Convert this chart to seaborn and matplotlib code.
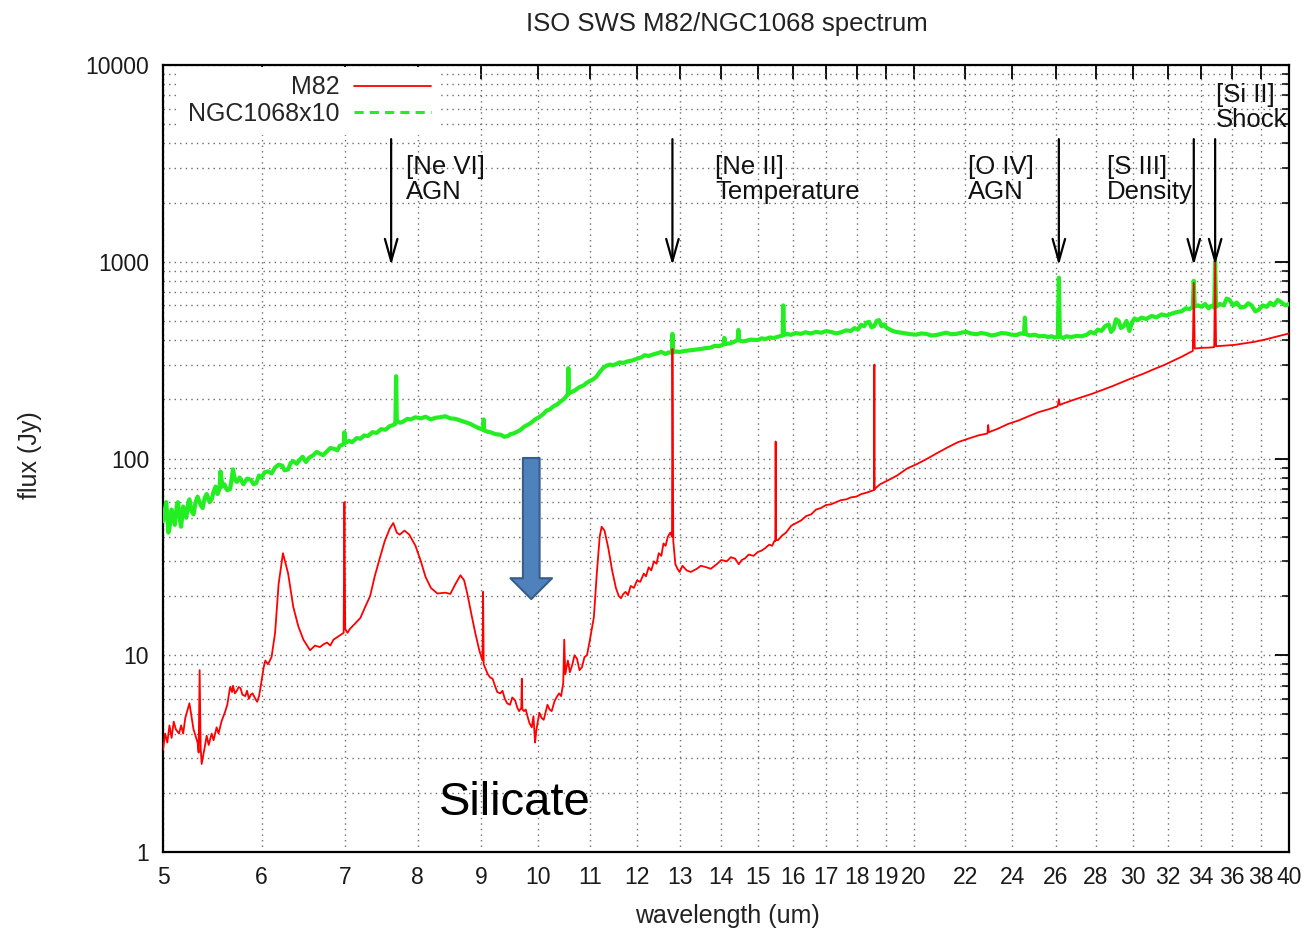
import matplotlib
matplotlib.use("Agg")
import matplotlib.pyplot as plt
from matplotlib import font_manager
from matplotlib.lines import Line2D
from matplotlib.ticker import FixedLocator, NullLocator, LogLocator, NullFormatter
import numpy as np
import pandas as pd
import seaborn as sns

# ---------------------------------------------------------------- data
# M82 spectrum (wavelength in um, flux in Jy)
m82_wl = [
    5.00, 5.02, 5.04, 5.06, 5.08, 5.10, 5.12, 5.15, 5.17, 5.19,
    5.21, 5.25, 5.29, 5.33, 5.34, 5.35, 5.36, 5.37, 5.40, 5.42,
    5.44, 5.47, 5.49, 5.52, 5.54, 5.57, 5.59, 5.61, 5.63, 5.66,
    5.68, 5.69, 5.71, 5.73, 5.75, 5.77, 5.79, 5.82, 5.84, 5.86,
    5.88, 5.90, 5.93, 5.95, 5.97, 5.99, 6.02, 6.04, 6.07, 6.11,
    6.15, 6.19, 6.24, 6.30, 6.36, 6.42, 6.48, 6.56, 6.62, 6.68,
    6.73, 6.77, 6.81, 6.85, 6.89, 6.93, 6.98, 6.99, 7.00, 7.03,
    7.06, 7.13, 7.20, 7.26, 7.33, 7.39, 7.46, 7.53, 7.60, 7.65,
    7.70, 7.74, 7.81, 7.88, 7.97, 8.05, 8.12, 8.20, 8.30, 8.42,
    8.50, 8.58, 8.66, 8.72, 8.77, 8.84, 8.90, 8.97, 9.02, 9.03,
    9.04, 9.08, 9.11, 9.15, 9.19, 9.23, 9.27, 9.32, 9.36, 9.40,
    9.44, 9.49, 9.53, 9.58, 9.62, 9.65, 9.69, 9.70, 9.71, 9.74,
    9.77, 9.81, 9.84, 9.88, 9.91, 9.94, 9.96, 9.99, 10.02, 10.06,
    10.10, 10.14, 10.17, 10.21, 10.25, 10.30, 10.34, 10.39, 10.43, 10.47,
    10.49, 10.51, 10.56, 10.60, 10.65, 10.69, 10.74, 10.79, 10.84, 10.89,
    10.94, 11.00, 11.08, 11.14, 11.20, 11.24, 11.30, 11.38, 11.46, 11.54,
    11.60, 11.65, 11.70, 11.75, 11.80, 11.86, 11.93, 12.00, 12.07, 12.15,
    12.20, 12.26, 12.32, 12.38, 12.44, 12.49, 12.55, 12.60, 12.65, 12.70,
    12.76, 12.80, 12.81, 12.83, 12.88, 12.93, 12.98, 13.05, 13.15, 13.25,
    13.40, 13.50, 13.64, 13.75, 13.90, 14.02, 14.16, 14.27, 14.38, 14.48,
    14.56, 14.64, 14.75, 14.88, 15.00, 15.10, 15.20, 15.32, 15.40, 15.46,
    15.49, 15.50, 15.51, 15.57, 15.68, 15.80, 15.95, 16.10, 16.25, 16.40,
    16.55, 16.70, 16.85, 17.01, 17.17, 17.33, 17.50, 17.66, 17.82, 17.99,
    18.16, 18.33, 18.45, 18.57, 18.59, 18.60, 18.61, 18.80, 19.04, 19.40,
    19.76, 20.14, 20.52, 20.91, 21.30, 21.70, 22.11, 22.53, 22.92, 22.95,
    22.98, 23.38, 23.82, 24.27, 24.73, 25.19, 25.67, 26.00, 26.10, 26.15,
    26.20, 26.34, 26.83, 27.34, 27.85, 28.38, 28.91, 29.46, 30.01, 30.58,
    31.15, 31.74, 32.34, 32.84, 33.27, 33.49, 33.55, 33.61, 34.00, 34.48,
    34.84, 34.90, 34.96, 35.40, 36.18, 36.86, 37.54, 38.25, 38.96, 39.69,
    40.00,
]
m82_flux = [
    3.3, 4.0, 3.6, 4.4, 3.8, 4.6, 4.2, 4.0, 4.4, 4.0,
    4.8, 5.7, 4.2, 3.6, 3.2, 8.4, 3.4, 2.8, 3.4, 3.9,
    3.5, 4.0, 3.7, 4.3, 4.0, 4.6, 4.9, 5.2, 5.6, 6.9,
    6.5, 7.0, 6.4, 6.6, 6.9, 6.8, 6.3, 6.2, 6.6, 6.0,
    6.3, 6.4, 6.0, 5.8, 6.2, 7.0, 8.6, 9.4, 9.0, 9.8,
    13.0, 23.0, 33.0, 26.0, 17.6, 14.0, 12.0, 10.6, 11.2, 11.0,
    11.4, 11.6, 11.2, 12.0, 12.3, 12.6, 13.0, 60.0, 13.6, 13.0,
    13.6, 14.5, 15.5, 17.5, 20.0, 25.0, 31.0, 38.0, 44.0, 47.0,
    42.0, 41.0, 43.0, 41.0, 36.0, 30.0, 25.0, 22.0, 20.6, 20.8,
    20.5, 23.0, 25.5, 24.0, 20.6, 16.0, 13.0, 10.5, 9.4, 21.0,
    9.0, 8.4, 8.0, 7.7, 7.6, 7.0, 6.5, 6.4, 6.6, 6.0,
    5.7, 5.6, 6.1, 5.9, 5.4, 5.2, 5.4, 7.6, 5.3, 5.2,
    5.3, 4.8, 4.5, 4.3, 4.9, 3.6, 4.1, 4.6, 5.1, 4.8,
    4.7, 5.2, 5.6, 5.3, 5.2, 5.8, 6.1, 6.4, 6.2, 7.2,
    12.0, 8.0, 9.4, 8.2, 9.0, 10.0, 9.6, 8.4, 8.7, 9.8,
    10.0, 12.0, 15.6, 26.0, 40.0, 45.0, 43.0, 35.0, 27.0, 22.0,
    20.0, 19.5, 20.5, 21.0, 20.2, 22.5, 22.0, 24.0, 23.6, 26.0,
    25.2, 28.0, 27.0, 30.0, 29.2, 33.0, 32.0, 37.0, 36.0, 40.0,
    42.0, 40.0, 360.0, 38.0, 29.0, 27.5, 26.5, 28.5, 27.0, 26.5,
    27.5, 28.5, 28.0, 27.5, 29.0, 30.5, 30.0, 31.5, 31.0, 29.0,
    30.5, 31.0, 32.5, 32.0, 33.5, 34.0, 35.0, 36.5, 36.0, 38.0,
    38.0, 122.0, 38.5, 38.5, 40.5, 42.0, 45.5, 47.0, 48.5, 51.0,
    52.0, 55.0, 56.0, 58.0, 58.5, 60.0, 61.5, 62.0, 63.5, 64.0,
    66.0, 67.0, 68.0, 69.0, 69.0, 300.0, 70.0, 74.0, 77.0, 82.0,
    89.0, 94.0, 100.0, 107.0, 114.0, 121.0, 126.0, 131.0, 134.0, 148.0,
    136.0, 142.0, 150.0, 156.0, 164.0, 172.0, 178.0, 183.0, 185.0, 200.0,
    187.0, 190.0, 198.0, 206.0, 214.0, 224.0, 234.0, 246.0, 258.0, 270.0,
    284.0, 298.0, 315.0, 330.0, 345.0, 352.0, 780.0, 362.0, 365.0, 366.0,
    368.0, 990.0, 372.0, 374.0, 378.0, 385.0, 392.0, 402.0, 414.0, 426.0,
    432.0,
]

# NGC1068 spectrum, scaled by 10
ngc_wl = [
    5.00, 5.02, 5.03, 5.05, 5.06, 5.08, 5.10, 5.11, 5.13, 5.14,
    5.16, 5.17, 5.19, 5.20, 5.22, 5.24, 5.25, 5.27, 5.29, 5.31,
    5.33, 5.36, 5.38, 5.40, 5.42, 5.45, 5.47, 5.49, 5.51, 5.53,
    5.55, 5.56, 5.58, 5.60, 5.63, 5.66, 5.69, 5.71, 5.73, 5.76,
    5.80, 5.84, 5.88, 5.91, 5.94, 5.97, 6.00, 6.03, 6.07, 6.11,
    6.15, 6.19, 6.23, 6.26, 6.30, 6.33, 6.36, 6.40, 6.44, 6.47,
    6.51, 6.55, 6.60, 6.64, 6.68, 6.72, 6.77, 6.81, 6.86, 6.90,
    6.93, 6.98, 6.99, 7.00, 7.05, 7.09, 7.15, 7.20, 7.25, 7.30,
    7.36, 7.42, 7.48, 7.54, 7.60, 7.65, 7.68, 7.69, 7.70, 7.75,
    7.79, 7.85, 7.90, 7.97, 8.05, 8.12, 8.20, 8.27, 8.34, 8.42,
    8.50, 8.58, 8.66, 8.74, 8.82, 8.89, 8.95, 9.03, 9.04, 9.05,
    9.10, 9.15, 9.24, 9.33, 9.39, 9.45, 9.50, 9.55, 9.62, 9.68,
    9.74, 9.80, 9.87, 9.94, 10.01, 10.09, 10.15, 10.22, 10.28, 10.35,
    10.42, 10.48, 10.56, 10.57, 10.58, 10.64, 10.70, 10.78, 10.87, 10.93,
    11.00, 11.06, 11.13, 11.20, 11.28, 11.34, 11.41, 11.48, 11.55, 11.62,
    11.70, 11.80, 11.90, 12.00, 12.09, 12.17, 12.26, 12.36, 12.46, 12.55,
    12.65, 12.72, 12.80, 12.81, 12.82, 12.90, 12.98, 13.10, 13.24, 13.36,
    13.49, 13.62, 13.75, 13.85, 13.96, 14.08, 14.10, 14.12, 14.26, 14.36,
    14.45, 14.47, 14.49, 14.58, 14.67, 14.80, 15.00, 15.10, 15.22, 15.33,
    15.45, 15.58, 15.70, 15.72, 15.74, 15.84, 15.94, 16.08, 16.24, 16.38,
    16.54, 16.70, 16.86, 17.01, 17.17, 17.33, 17.49, 17.65, 17.81, 17.93,
    18.04, 18.15, 18.25, 18.33, 18.42, 18.50, 18.59, 18.68, 18.76, 18.85,
    18.94, 19.02, 19.11, 19.24, 19.36, 19.54, 19.72, 19.90, 20.09, 20.28,
    20.47, 20.66, 20.85, 21.04, 21.24, 21.44, 21.64, 21.84, 22.04, 22.24,
    22.45, 22.66, 22.87, 23.08, 23.30, 23.52, 23.74, 23.96, 24.18, 24.35,
    24.52, 24.56, 24.60, 24.80, 24.99, 25.22, 25.46, 25.63, 25.80, 25.96,
    26.10, 26.15, 26.20, 26.35, 26.51, 26.76, 27.01, 27.26, 27.52, 27.72,
    27.93, 28.10, 28.29, 28.48, 28.67, 28.80, 28.93, 29.06, 29.20, 29.33,
    29.47, 29.63, 29.79, 29.93, 30.07, 30.26, 30.46, 30.74, 31.03, 31.32,
    31.62, 31.92, 32.21, 32.51, 32.81, 33.05, 33.29, 33.49, 33.55, 33.61,
    33.82, 34.04, 34.26, 34.48, 34.66, 34.84, 34.90, 34.96, 35.20, 35.46,
    35.65, 35.84, 36.08, 36.32, 36.58, 36.86, 37.10, 37.33, 37.58, 37.82,
    38.10, 38.39, 38.64, 38.89, 39.18, 39.47, 39.74, 40.00,
]
ngc_flux = [
    48, 56, 60, 42, 44, 55, 50, 46, 58, 60,
    48, 45, 57, 54, 50, 60, 62, 54, 52, 60,
    64, 58, 56, 63, 66, 60, 62, 68, 72, 66,
    70, 86, 72, 74, 69, 70, 88, 78, 76, 80,
    74, 79, 78, 74, 75, 82, 80, 85, 86, 84,
    90, 93, 92, 87, 88, 95, 97, 94, 99, 102,
    96, 101, 104, 108, 106, 104, 109, 113, 112, 110,
    116, 118, 136, 120, 123, 121, 127, 126, 131, 130,
    136, 135, 141, 140, 146, 148, 150, 262, 155, 152,
    154, 159, 158, 162, 160, 163, 158, 161, 162, 164,
    160, 159, 156, 153, 150, 146, 143, 140, 158, 139,
    137, 136, 133, 132, 129, 130, 133, 134, 137, 140,
    145, 148, 152, 158, 162, 168, 175, 178, 184, 188,
    195, 200, 212, 288, 214, 218, 222, 230, 235, 242,
    248, 252, 260, 275, 290, 296, 300, 298, 302, 308,
    306, 312, 315, 322, 326, 335, 332, 338, 343, 348,
    340, 346, 345, 430, 346, 350, 348, 352, 355, 358,
    360, 364, 366, 374, 372, 380, 410, 382, 385, 392,
    400, 450, 398, 394, 396, 402, 400, 408, 405, 412,
    410, 416, 422, 600, 425, 430, 425, 434, 430, 438,
    432, 440, 436, 444, 440, 432, 438, 448, 445, 460,
    452, 478, 470, 490, 495, 465, 470, 500, 505, 470,
    480, 462, 455, 445, 440, 436, 432, 428, 426, 432,
    430, 422, 424, 430, 436, 428, 430, 436, 440, 432,
    428, 434, 430, 422, 426, 434, 432, 426, 424, 432,
    430, 520, 428, 422, 426, 418, 420, 414, 418, 412,
    415, 830, 416, 410, 418, 414, 420, 418, 425, 440,
    432, 452, 445, 470, 480, 440, 455, 510, 500, 460,
    470, 500, 445, 490, 515, 505, 520, 512, 530, 522,
    540, 532, 545, 555, 560, 580, 575, 590, 800, 592,
    600, 590, 610, 580, 598, 585, 1000, 590, 610, 600,
    650, 640, 600, 620, 585, 590, 615, 600, 560, 570,
    600, 590, 620, 600, 640, 620, 600, 610,
]

# axis ticks
x_ticks = [5, 6, 7, 8, 9, 10, 11, 12, 13, 14, 15, 16, 17, 18, 19, 20,
           22, 24, 26, 28, 30, 32, 34, 36, 38, 40]
y_ticks = [1, 10, 100, 1000, 10000]

# emission-line markers
line_names = ["[Ne VI]\nAGN", "[Ne II]\nTemperature", "[O IV]\nAGN",
              "[S III]\nDensity", "[Si II]\nShock"]
line_wl = [7.62, 12.81, 26.15, 33.55, 34.90]
arrow_top = 4200
arrow_tip = 960
# label anchors (upper-left corner, data coords)
label_x = [7.83, 13.87, 22.1, 28.6, 34.96]
label_y = [3500, 3500, 3500, 3500, 8100]

# ---------------------------------------------------------------- style
sns.set_theme(style="white")
names = {f.name for f in font_manager.fontManager.ttflist}
base_font = "Liberation Sans" if "Liberation Sans" in names else "DejaVu Sans"
plt.rcParams["font.family"] = [base_font, "DejaVu Sans"]

W, H = 1309, 932
fig = plt.figure(figsize=(W / 100, H / 100), dpi=100)
fig.patch.set_facecolor("white")
ax = fig.add_axes([163 / W, 1 - 852 / H, 1126 / W, 787 / H])
ax.set_facecolor("white")

m82 = pd.DataFrame({"wavelength": m82_wl, "flux": m82_flux})
ngc = pd.DataFrame({"wavelength": ngc_wl, "flux": ngc_flux})

red = "#ff0000"
green = "#22ee22"

sns.lineplot(data=ngc, x="wavelength", y="flux", ax=ax, color=green,
             lw=3.0, estimator=None, sort=False, zorder=3)
sns.lineplot(data=m82, x="wavelength", y="flux", ax=ax, color=red,
             lw=1.3, estimator=None, sort=False, zorder=4)

ax.set_xscale("log")
ax.set_yscale("log")
ax.set_xlim(5, 40)
ax.set_ylim(1, 10000)

ax.xaxis.set_major_locator(FixedLocator(x_ticks))
ax.xaxis.set_minor_locator(NullLocator())
ax.set_xticklabels([str(t) for t in x_ticks])
ax.yaxis.set_major_locator(FixedLocator(y_ticks))
ax.yaxis.set_minor_locator(LogLocator(base=10, subs=np.arange(2, 10)))
ax.yaxis.set_minor_formatter(NullFormatter())
ax.set_yticklabels([str(t) for t in y_ticks])

ax.tick_params(which="both", direction="in", top=True, right=True,
               color="black", labelcolor="#1a1a1a")
ax.tick_params(which="major", length=10, width=1.3, labelsize=16.5,
               pad=10)
ax.tick_params(which="minor", length=5, width=1.1)

ax.grid(which="major", axis="both", ls=(0, (1, 3)), color="#6e6e6e", lw=1.0)
ax.grid(which="minor", axis="y", ls=(0, (1, 3)), color="#6e6e6e", lw=1.0)
for s in ax.spines.values():
    s.set_color("black")
    s.set_linewidth(1.6)

ax.set_xlabel("")
ax.set_ylabel("")
fig.text(727 / W, 1 - 916 / H, "wavelength (um)", ha="center", va="center",
         fontsize=18, color="#222222")
fig.text(30 / W, 1 - 455 / H, "flux (Jy)", ha="center", va="center",
         rotation=90, fontsize=18, color="#222222")
fig.text(727 / W, 1 - 24 / H, "ISO SWS M82/NGC1068 spectrum", ha="center",
         va="center", fontsize=18.5, color="#222222")

# legend: text first, sample line after (right aligned)
handles = [Line2D([], [], color=red, lw=1.3),
           Line2D([], [], color=green, lw=2.2, ls=(0, (3, 2)))]
leg = ax.legend(handles, ["M82", "NGC1068x10"], loc="upper right",
                bbox_to_anchor=(0.246, 0.998), markerfirst=False,
                frameon=True, fancybox=False, facecolor="white",
                edgecolor="none", framealpha=1, fontsize=18,
                handlelength=3.1, handletextpad=0.55, labelspacing=0.1,
                borderpad=0.35, borderaxespad=0)
leg.set_zorder(6)

# emission-line arrows and labels
for name, wl, lx, ly in zip(line_names, line_wl, label_x, label_y):
    ax.annotate("", xy=(wl, arrow_tip), xytext=(wl, arrow_top),
                arrowprops=dict(arrowstyle="->,head_length=1.6,head_width=0.45",
                                lw=1.6, color="black", shrinkA=0, shrinkB=0,
                                mutation_scale=10), zorder=7)
    ax.text(lx, ly, name, ha="left", va="top", fontsize=18.5,
            linespacing=1.05, color="#111111", zorder=7)

# silicate absorption marker
ax.annotate("", xy=(9.87, 19.3), xytext=(9.87, 100.6),
            arrowprops=dict(arrowstyle="simple,head_length=0.5,head_width=1.0,tail_width=0.4",
                            fc="#4f81bd", ec="#385d8a", lw=1.5,
                            mutation_scale=30, shrinkA=0, shrinkB=0),
            zorder=8)
ax.text(9.57, 1.77, "Silicate", ha="center", va="center", fontsize=34,
        color="black", zorder=8)

fig.savefig("out.png", dpi=100, facecolor="white")
